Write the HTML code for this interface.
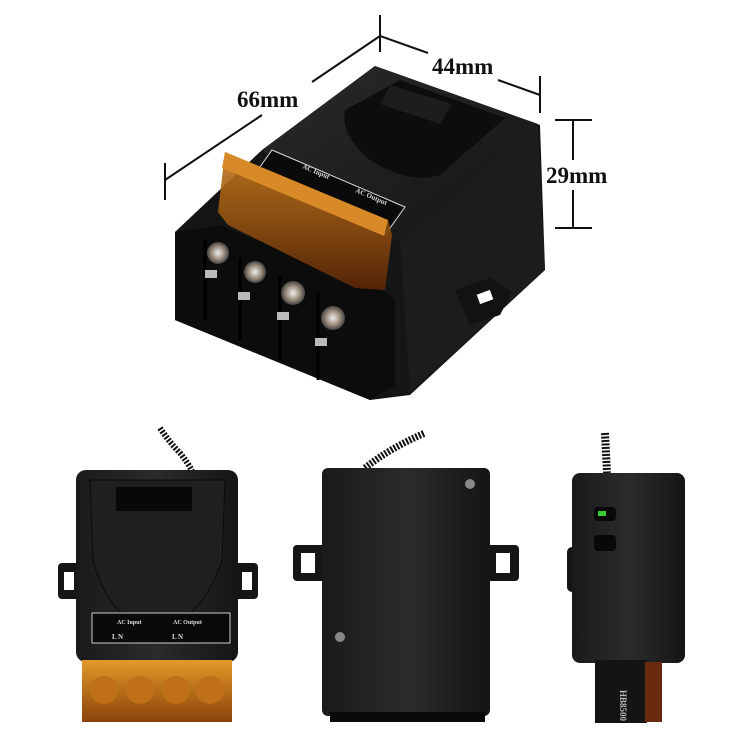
<!DOCTYPE html>
<html><head><meta charset="utf-8"><style>
html,body{margin:0;padding:0;background:#fff;}
svg{display:block}
text{font-family:"Liberation Serif",serif;font-weight:bold;}
</style></head><body>
<svg width="750" height="750" viewBox="0 0 750 750" xmlns="http://www.w3.org/2000/svg">
<defs>
<linearGradient id="top" x1="0" y1="0" x2="1" y2="1"><stop offset="0" stop-color="#2a2a2a"/><stop offset="1" stop-color="#141414"/></linearGradient>
<linearGradient id="orng" x1="0" y1="0" x2="0" y2="1"><stop offset="0" stop-color="#c47a1c"/><stop offset="1" stop-color="#5a2606"/></linearGradient>
<linearGradient id="orng2" x1="0" y1="0" x2="0" y2="1"><stop offset="0" stop-color="#e39a2a"/><stop offset="1" stop-color="#8a4208"/></linearGradient>
<linearGradient id="bd" x1="0" y1="0" x2="1" y2="0"><stop offset="0" stop-color="#1a1a1a"/><stop offset="0.5" stop-color="#2b2b2b"/><stop offset="1" stop-color="#151515"/></linearGradient>
<radialGradient id="screw"><stop offset="0" stop-color="#eee"/><stop offset="0.6" stop-color="#9a8a7a"/><stop offset="1" stop-color="#444"/></radialGradient>
</defs>

<g stroke="#111" stroke-width="2" fill="none">
<line x1="165" y1="180" x2="262" y2="115"/>
<line x1="312" y1="82" x2="380" y2="36"/>
<line x1="165" y1="163" x2="165" y2="200"/>
<line x1="380" y1="15" x2="380" y2="52"/>
<line x1="380" y1="36" x2="428" y2="53"/>
<line x1="498" y1="80" x2="540" y2="95"/>
<line x1="540" y1="76" x2="540" y2="113"/>
<line x1="555" y1="120" x2="592" y2="120"/>
<line x1="555" y1="228" x2="592" y2="228"/>
<line x1="573" y1="120" x2="573" y2="160"/>
<line x1="573" y1="190" x2="573" y2="228"/>
</g>
<text x="237" y="107" font-size="23" fill="#111">66mm</text>
<text x="432" y="74" font-size="23" fill="#111">44mm</text>
<text x="546" y="183" font-size="23" fill="#111">29mm</text>

<polygon points="175,232 262,150 375,66 540,125 545,270 410,395 370,400 175,320" fill="#151515"/>
<polygon points="262,150 375,66 538,124 400,242" fill="url(#top)"/>
<polygon points="400,242 538,124 545,270 410,392" fill="#1c1c1c"/>
<path d="M345,110 Q340,135 370,160 Q410,185 440,175 L505,118 L400,80 Z" fill="#0d0d0d"/>
<polygon points="390,85 452,104 440,124 380,104" fill="#1d1d1d"/>
<polygon points="272,150 405,207 385,235 252,178" fill="#0a0a0a" stroke="#ddd" stroke-width="1"/>
<text x="302" y="168" font-size="7" fill="#ddd" font-family="Liberation Sans" transform="rotate(23 302 168)">AC Input</text>
<text x="355" y="192" font-size="7" fill="#ddd" font-family="Liberation Sans" transform="rotate(23 355 192)">AC Output</text>
<path d="M455,290 L490,278 L512,292 L500,315 L470,325 Z" fill="#121212"/>
<rect x="478" y="292" width="14" height="10" fill="#fff" transform="rotate(-20 485 297)"/>
<polygon points="175,232 220,225 385,292 395,300 395,385 370,400 175,320" fill="#0c0c0c"/>
<g stroke="#000" stroke-width="3">
<line x1="205" y1="240" x2="205" y2="320"/>
<line x1="240" y1="258" x2="240" y2="340"/>
<line x1="280" y1="275" x2="280" y2="360"/>
<line x1="318" y1="292" x2="318" y2="380"/>
</g>
<circle cx="218" cy="253" r="11" fill="url(#screw)"/>
<circle cx="255" cy="272" r="11" fill="url(#screw)"/>
<circle cx="293" cy="293" r="12" fill="url(#screw)"/>
<circle cx="333" cy="318" r="12" fill="url(#screw)"/>
<rect x="205" y="270" width="12" height="8" fill="#bbb"/>
<rect x="238" y="292" width="12" height="8" fill="#bbb"/>
<rect x="277" y="312" width="12" height="8" fill="#bbb"/>
<rect x="315" y="338" width="12" height="8" fill="#bbb"/>
<polygon points="225,152 388,220 392,235 385,290 355,288 228,225 218,212" fill="url(#orng)" opacity="0.92"/>
<polygon points="225,152 388,220 384,236 222,168" fill="#d98a28"/>

<path d="M160,428 q10,15 20,25 q8,10 12,18" stroke="#111" stroke-width="6" fill="none" stroke-dasharray="2 1.5"/>
<rect x="58" y="563" width="24" height="36" rx="4" fill="#151515"/>
<rect x="64" y="572" width="10" height="18" fill="#fff"/>
<rect x="234" y="563" width="24" height="36" rx="4" fill="#151515"/>
<rect x="242" y="572" width="10" height="18" fill="#fff"/>
<rect x="76" y="470" width="162" height="192" rx="10" fill="url(#bd)"/>
<path d="M90,480 L225,480 L222,560 Q200,625 157,628 Q110,625 93,560 Z" fill="#1f1f1f" stroke="#0a0a0a"/>
<rect x="116" y="487" width="76" height="24" fill="#080808"/>
<rect x="92" y="613" width="138" height="30" fill="#0a0a0a" stroke="#ccc" stroke-width="1"/>
<text x="117" y="624" font-size="6" fill="#ddd" font-family="Liberation Sans" font-weight="normal">AC Input</text>
<text x="173" y="624" font-size="6" fill="#ddd" font-family="Liberation Sans" font-weight="normal">AC Output</text>
<text x="112" y="639" font-size="7" fill="#ddd" font-family="Liberation Sans">L   N</text>
<text x="172" y="639" font-size="7" fill="#ddd" font-family="Liberation Sans">L   N</text>
<rect x="82" y="660" width="150" height="62" fill="url(#orng2)"/>
<circle cx="104" cy="690" r="14" fill="#c07018"/>
<circle cx="140" cy="690" r="14" fill="#c07018"/>
<circle cx="176" cy="690" r="14" fill="#c07018"/>
<circle cx="210" cy="690" r="14" fill="#c07018"/>

<path d="M365,468 q25,-20 60,-35" stroke="#111" stroke-width="7" fill="none" stroke-dasharray="2 1.5"/>
<rect x="293" y="545" width="34" height="36" rx="4" fill="#151515"/>
<rect x="301" y="553" width="14" height="20" fill="#fff"/>
<rect x="485" y="545" width="34" height="36" rx="4" fill="#151515"/>
<rect x="496" y="553" width="14" height="20" fill="#fff"/>
<rect x="322" y="468" width="168" height="248" rx="6" fill="url(#bd)"/>
<circle cx="470" cy="484" r="5" fill="#888"/>
<circle cx="340" cy="637" r="5" fill="#888"/>
<rect x="330" y="712" width="155" height="10" fill="#0a0a0a"/>

<path d="M605,433 L607,473" stroke="#111" stroke-width="8" stroke-dasharray="2 1.5"/>
<rect x="567" y="547" width="26" height="45" rx="5" fill="#151515"/>
<rect x="572" y="473" width="113" height="190" rx="8" fill="url(#bd)"/>
<rect x="594" y="507" width="22" height="14" rx="4" fill="#080808"/>
<rect x="598" y="511" width="8" height="5" fill="#3c3"/>
<rect x="594" y="535" width="22" height="16" rx="4" fill="#080808"/>
<rect x="595" y="660" width="52" height="63" fill="#141414"/>
<rect x="645" y="662" width="17" height="60" fill="#6a2a10"/>
<text x="620" y="690" font-size="9" fill="#bbb" font-family="Liberation Sans" font-weight="normal" transform="rotate(90 620 690)">HB8500</text>
</svg>
</body></html>
